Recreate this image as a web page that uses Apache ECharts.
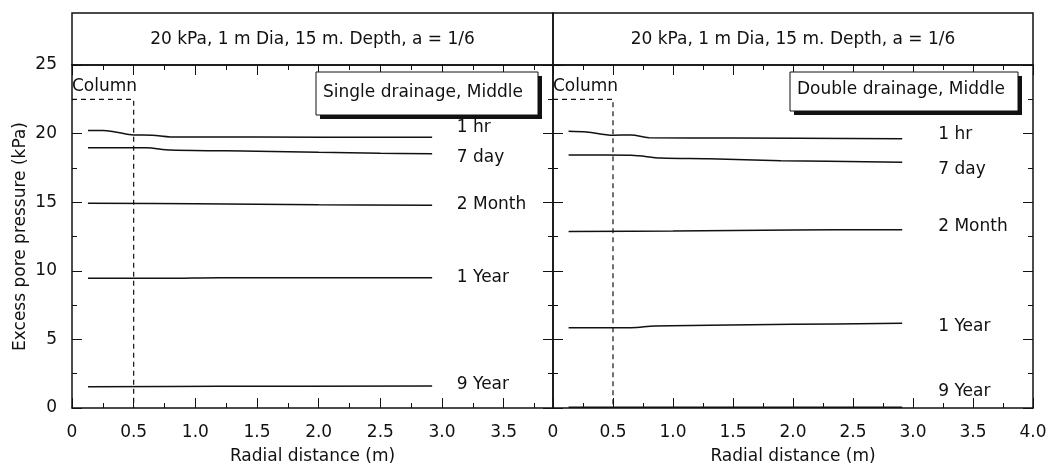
<!DOCTYPE html>
<html><head><meta charset="utf-8">
<script src="https://cdn.jsdelivr.net/npm/echarts@6.0.0/dist/echarts.min.js"></script>
<style>html,body{margin:0;padding:0;background:#fff}#c{width:1054px;height:473px}</style>
</head><body><div id="c"></div>
<script>
// ---- data ----
const curveNames = ['1 hr', '7 day', '2 Month', '1 Year', '9 Year'];
const panelTitles = ['20 kPa, 1 m Dia, 15 m. Depth, a = 1/6', '20 kPa, 1 m Dia, 15 m. Depth, a = 1/6'];
const panelCases = ['Single drainage, Middle', 'Double drainage, Middle'];
const xAxisMax = [3.9, 4.0];

const single1hr   = [[0.13,20.22],[0.25,20.22],[0.35,20.12],[0.5,19.9],[0.65,19.88],[0.8,19.76],[1.5,19.75],[2.92,19.73]];
const single7day  = [[0.13,18.97],[0.6,18.96],[0.8,18.8],[1.5,18.72],[2.0,18.64],[2.5,18.57],[2.92,18.53]];
const single2mon  = [[0.13,14.93],[1.0,14.88],[2.0,14.81],[2.92,14.77]];
const single1yr   = [[0.13,9.45],[0.75,9.45],[1.2,9.5],[2.92,9.5]];
const single9yr   = [[0.13,1.55],[1.2,1.58],[2.92,1.6]];

const double1hr   = [[0.13,20.18],[0.28,20.12],[0.5,19.88],[0.65,19.9],[0.8,19.7],[1.5,19.68],[2.91,19.63]];
const double7day  = [[0.13,18.44],[0.65,18.42],[0.9,18.22],[1.3,18.17],[1.9,18.03],[2.91,17.92]];
const double2mon  = [[0.13,12.87],[1.0,12.9],[2.0,12.97],[2.91,13.0]];
const double1yr   = [[0.13,5.85],[0.65,5.85],[0.85,5.98],[1.3,6.03],[2.0,6.1],[2.91,6.17]];
const double9yr   = [[0.13,0.05],[2.91,0.05]];

// curve-name annotation anchors (data units)
const singleLabelX = 3.12;
const singleLabelY = [20.42, 18.27, 14.82, 9.51, 1.73];
const doubleLabelX = 3.21;
const doubleLabelY = [19.95, 17.39, 13.24, 5.93, 1.17];

// stone column outline (radius 0.5 m)
const columnOutline = [[0,22.5],[0.5,22.5],[0.5,0]];
const columnLabelAt = [0.0, 23.4];

// ---- chart ----
const FONT = 'DejaVu Sans';
const INK = '#111';
const FS = 17;
const panels = [
  {curves:[single1hr,single7day,single2mon,single1yr,single9yr], lx:singleLabelX, ly:singleLabelY},
  {curves:[double1hr,double7day,double2mon,double1yr,double9yr], lx:doubleLabelX, ly:doubleLabelY}
];
const gridRects = [{left:72, right:501, top:65, bottom:65}, {left:553, right:21, top:65, bottom:65}];

const grid = [gridRects[0], gridRects[1], gridRects[0], gridRects[1]];
function line() { return {show:true, onZero:false, lineStyle:{color:INK, width:1.5}}; }
function noLine() { return {show:false, onZero:false}; }
function tick(len) { return {show:true, inside:true, length:len, lineStyle:{color:INK, width:1}}; }
const xAxis = [];
const yAxis = [];
// main x axes (grids 0,1)
[0,1].forEach(p => {
  const base = {type:'value', gridIndex:p, min:0, max:xAxisMax[p], interval:0.5, splitLine:{show:false}};
  xAxis.push(Object.assign({}, base, {position:'bottom', axisLine:line(), axisTick:tick(10),
    axisLabel:{show:true, fontFamily:FONT, fontSize:FS, color:INK, margin:16, showMaxLabel: p===1,
      formatter: v => v===0 ? '0' : v.toFixed(1)},
    name:'Radial distance (m)', nameLocation:'middle', nameGap:40,
    nameTextStyle:{fontFamily:FONT, fontSize:FS, color:INK}}));
  xAxis.push(Object.assign({}, base, {position:'top', axisLine:line(), axisTick:tick(10), axisLabel:{show:false}}));
});
// minor x axes (overlay grids 2,3)
[0,1].forEach(p => {
  const base = {type:'value', gridIndex:p+2, min:0, max:xAxisMax[p], interval:0.25, axisLine:noLine(), splitLine:{show:false},
    axisLabel:{show:false}};
  xAxis.push(Object.assign({}, base, {position:'bottom', axisTick:tick(5)}));
  xAxis.push(Object.assign({}, base, {position:'top', axisTick:tick(5)}));
});
// main y axes (grids 0,1)
[0,1].forEach(p => {
  const base = {type:'value', gridIndex:p, min:0, max:25, interval:5, splitLine:{show:false}};
  const left = Object.assign({}, base, {position:'left', axisLine:line(), axisTick:tick(10), axisLabel:{show:false}});
  if (p === 0) {
    left.axisLabel = {show:true, fontFamily:FONT, fontSize:FS, color:INK, margin:15};
    left.name = 'Excess pore pressure (kPa)';
    left.nameLocation = 'middle';
    left.nameGap = 43;
    left.nameTextStyle = {fontFamily:FONT, fontSize:FS, color:INK};
  }
  yAxis.push(left);
  yAxis.push(Object.assign({}, base, {position:'right', axisLine:line(), axisTick:tick(10), axisLabel:{show:false}}));
});
// minor y axes (overlay grids 2,3)
[0,1].forEach(p => {
  const base = {type:'value', gridIndex:p+2, min:0, max:25, interval:2.5, axisLine:noLine(), splitLine:{show:false},
    axisLabel:{show:false}};
  yAxis.push(Object.assign({}, base, {position:'left', axisTick:tick(5)}));
  yAxis.push(Object.assign({}, base, {position:'right', axisTick:tick(5)}));
});

const series = [];
panels.forEach((pn, p) => {
  const xi = p*2, yi = p*2;
  pn.curves.forEach((c, i) => {
    series.push({type:'line', name:curveNames[i], xAxisIndex:xi, yAxisIndex:yi, data:c, smooth:0.35,
      symbol:'none', lineStyle:{color:INK, width:1.5}, silent:true, z:3});
  });
  series.push({type:'line', xAxisIndex:xi, yAxisIndex:yi, data:columnOutline, symbol:'none',
    lineStyle:{color:INK, width:1.2, type:[5,4]}, silent:true, z:2});
  series.push({type:'scatter', xAxisIndex:xi, yAxisIndex:yi, symbolSize:0, silent:true,
    itemStyle:{opacity:1, color:INK},
    data: curveNames.map((n,i) => [pn.lx, pn.ly[i], n]).concat([[columnLabelAt[0], columnLabelAt[1], 'Column']]),
    label:{show:true, position:'right', distance:0, formatter: d => d.value[2],
      fontFamily:FONT, fontSize:FS, color:INK, opacity:1}, z:4});
});
// overlay grids need a series each so their cartesians exist
series.push({type:'line', xAxisIndex:4, yAxisIndex:4, data:[], silent:true});
series.push({type:'line', xAxisIndex:6, yAxisIndex:6, data:[], silent:true});

function titleBox(p) {
  const r = gridRects[p];
  const x = r.left, w = 1054 - r.right - r.left;
  return [
    {type:'rect', shape:{x:x, y:13, width:w, height:52}, style:{fill:'none', stroke:INK, lineWidth:1.5}, z:100},
    {type:'text', x:x + w/2, y:40, style:{text:panelTitles[p], fontFamily:FONT, fontSize:FS, fill:INK, align:'center', verticalAlign:'middle'}, z:101}
  ];
}
function caseBox(p, bx, by, bw, bh, ty) {
  return [
    {type:'rect', shape:{x:bx+4, y:by+4, width:bw, height:bh}, style:{fill:'#111'}, z:100},
    {type:'rect', shape:{x:bx, y:by, width:bw, height:bh}, style:{fill:'#fff', stroke:INK, lineWidth:1}, z:101},
    {type:'text', x:bx+7, y:ty, style:{text:panelCases[p], fontFamily:FONT, fontSize:FS, fill:INK, align:'left', verticalAlign:'middle'}, z:102}
  ];
}

const option = {
  animation:false,
  backgroundColor:'#fff',
  grid, xAxis, yAxis, series,
  graphic: [].concat(titleBox(0), titleBox(1), caseBox(0, 316, 72, 222, 43, 93), caseBox(1, 790, 72, 228, 39, 90))
};
const chart = echarts.init(document.getElementById('c'), null, {renderer:'canvas'});
chart.setOption(option);
</script>
</body></html>
